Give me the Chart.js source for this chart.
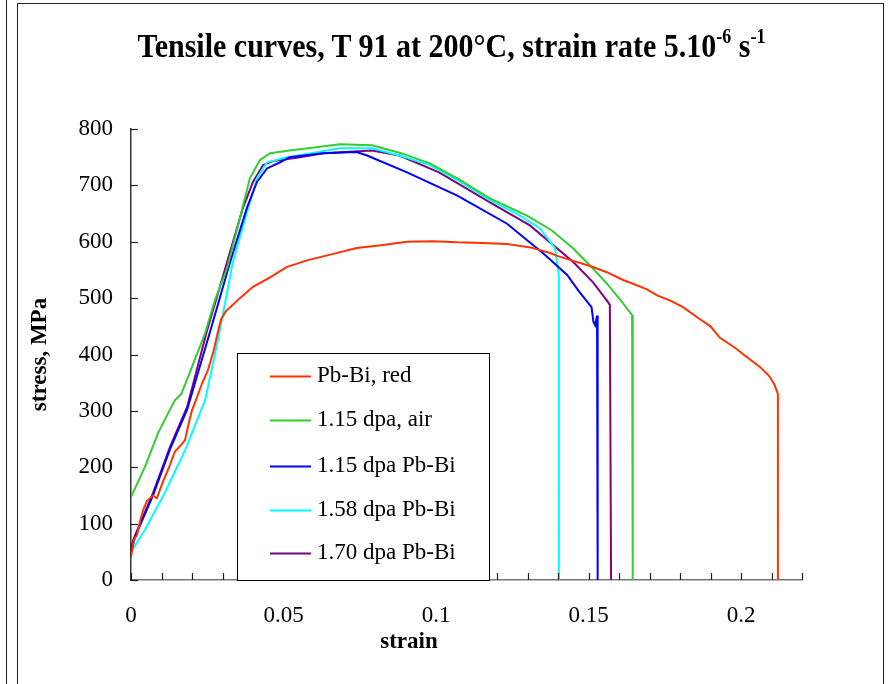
<!DOCTYPE html>
<html>
<head>
<meta charset="utf-8">
<script src="https://cdn.jsdelivr.net/npm/chart.js@4/dist/chart.umd.min.js"></script>
<style>
  html, body { margin: 0; padding: 0; background: #fff; }
  #wrap { position: relative; width: 891px; height: 684px; overflow: hidden; }
  #c { position: absolute; left: 0; top: 0; }
  #lineL { position: absolute; left: 6px; top: 0; width: 1px; height: 684px; background: #222; }
  #frame { position: absolute; left: 17px; top: 3px; width: 867px; height: 700px; border: 1px solid #222; box-sizing: border-box; }
  #title { position: absolute; left: 6px; width: 891px; top: 28px; text-align: center;
           font: bold 30px "Liberation Serif", "Times New Roman", serif; color: #000;
           transform: scaleY(1.15); transform-origin: 50% 50%; white-space: nowrap; line-height: 34px; }
  #title sup { font-size: 18px; position: relative; top: -12px; vertical-align: baseline; line-height: 0; }
</style>
</head>
<body>
<div id="wrap">
  <div id="lineL"></div>
  <div id="frame"></div>
  <canvas id="c" width="891" height="684"></canvas>
  <div id="title">Tensile curves, T 91 at 200°C, strain rate 5.10<sup>-6</sup> s<sup>-1</sup></div>
</div>
<script>
// ---- data ----
const seriesNames = ["Pb-Bi, red", "1.15 dpa, air", "1.15 dpa Pb-Bi", "1.58 dpa Pb-Bi", "1.70 dpa Pb-Bi"];
const seriesColors = ["#FF3300", "#33CC33", "#0000FF", "#00FFFF", "#800080"];

const redStrain = [0, 0.001, 0.002, 0.003, 0.004, 0.0052, 0.0072, 0.0085, 0.0105, 0.0125, 0.0144, 0.0165, 0.0177, 0.019, 0.02, 0.0215, 0.0233, 0.0252, 0.027, 0.0285, 0.0295, 0.031, 0.0325, 0.0357, 0.04, 0.0456, 0.051, 0.0577, 0.066, 0.074, 0.082, 0.0905, 0.099, 0.107, 0.115, 0.1233, 0.131, 0.1374, 0.1397, 0.145, 0.1505, 0.156, 0.161, 0.169, 0.1725, 0.177, 0.181, 0.1856, 0.19, 0.193, 0.198, 0.202, 0.2062, 0.2085, 0.2095, 0.211, 0.2121, 0.2121];
const redStress = [40, 72, 80, 105, 124, 140, 150, 145, 175, 200, 228, 240, 248, 280, 301, 322, 349, 372, 405, 440, 462, 476, 484, 500, 520, 537, 555, 567, 578, 589, 594, 600, 601, 599, 598, 596, 590, 580, 575, 566, 557, 546, 533, 516, 505, 495, 484, 466, 450, 430, 412, 395, 378, 366, 360, 346, 330, 0];

const greenStrain = [0, 0.0046, 0.0089, 0.0144, 0.0165, 0.0187, 0.0243, 0.0275, 0.0315, 0.0357, 0.039, 0.0423, 0.0456, 0.052, 0.06, 0.0685, 0.079, 0.088, 0.098, 0.1077, 0.1177, 0.13, 0.138, 0.145, 0.1505, 0.156, 0.1603, 0.1643, 0.1645];
const greenStress = [147, 201, 261, 319, 330, 360, 438, 496, 553, 642, 713, 745, 757, 762, 767, 773, 771, 758, 739, 710, 677, 646, 620, 588, 558, 526, 498, 470, 0];

const blueStrain = [0, 0.0013, 0.0072, 0.0128, 0.0184, 0.0259, 0.0325, 0.038, 0.0413, 0.0446, 0.0489, 0.052, 0.063, 0.074, 0.0774, 0.0905, 0.107, 0.1233, 0.1355, 0.143, 0.147, 0.151, 0.1516, 0.1522, 0.1528, 0.153];
const blueStress = [50, 76, 150, 232, 302, 440, 564, 660, 706, 730, 741, 750, 757, 759, 753, 723, 682, 632, 578, 541, 511, 484, 458, 452, 469, 0];

const cyanStrain = [0, 0.0046, 0.011, 0.0177, 0.0243, 0.0285, 0.0334, 0.038, 0.0413, 0.0446, 0.0511, 0.06, 0.0685, 0.079, 0.088, 0.098, 0.1077, 0.1177, 0.127, 0.134, 0.139, 0.1397, 0.1403, 0.1403];
const cyanStress = [50, 89, 154, 230, 319, 426, 564, 652, 713, 741, 750, 758, 766, 766, 753, 736, 707, 674, 648, 624, 589, 564, 540, 0];

const purpleStrain = [0, 0.0007, 0.0072, 0.0128, 0.0184, 0.0248, 0.0279, 0.0315, 0.0367, 0.04, 0.0433, 0.0466, 0.0554, 0.063, 0.079, 0.088, 0.101, 0.1177, 0.1308, 0.145, 0.1515, 0.156, 0.157, 0.1574];
const purpleStress = [55, 71, 154, 236, 307, 440, 497, 564, 660, 706, 736, 743, 750, 757, 762, 753, 723, 670, 629, 564, 528, 496, 488, 0];

const xTickLabels = ["0", "0.05", "0.1", "0.15", "0.2"];
const yTickLabels = ["0", "100", "200", "300", "400", "500", "600", "700", "800"];
const xAxisTitle = "strain";
const yAxisTitle = "stress, MPa";

const strains = [redStrain, greenStrain, blueStrain, cyanStrain, purpleStrain];
const stresses = [redStress, greenStress, blueStress, cyanStress, purpleStress];

// ---- build datasets ----
const datasets = seriesNames.map((name, i) => ({
  label: name,
  data: strains[i].map((x, k) => ({ x: x, y: stresses[i][k] })),
  borderColor: seriesColors[i],
  backgroundColor: seriesColors[i],
  borderWidth: 2,
  pointRadius: 0,
  showLine: true,
  tension: 0,
  fill: false
}));

const FONT = "'Liberation Serif', 'Times New Roman', serif";

const tickPlugin = {
  id: 'innerTicks',
  afterDatasetsDraw(chart) {
    const ctx = chart.ctx;
    const xs = chart.scales.x, ys = chart.scales.y;
    const area = chart.chartArea;
    ctx.save();
    ctx.strokeStyle = '#222';
    ctx.lineWidth = 1.2;
    for (let k = 0; k <= 22; k++) {
      const px = Math.round(xs.getPixelForValue(k / 100)) + 0.5;
      ctx.beginPath();
      ctx.moveTo(px, area.bottom);
      ctx.lineTo(px, area.bottom - 7);
      ctx.stroke();
    }
    for (let k = 0; k <= 8; k++) {
      const py = Math.round(ys.getPixelForValue(k * 100)) + 0.5;
      ctx.beginPath();
      ctx.moveTo(area.left, py);
      ctx.lineTo(area.left + 7, py);
      ctx.stroke();
    }
    // x axis title
    ctx.fillStyle = '#000';
    ctx.font = 'bold 23px ' + FONT;
    ctx.textAlign = 'center';
    ctx.textBaseline = 'middle';
    ctx.fillText(xAxisTitle, 409, 642);
    ctx.restore();
  }
};

const legendPlugin = {
  id: 'boxLegend',
  afterDatasetsDraw(chart) {
    const ctx = chart.ctx;
    const area = chart.chartArea;
    const left = 237, top = 353, right = 489, bottom = area.bottom;
    ctx.save();
    ctx.fillStyle = '#fff';
    ctx.fillRect(left, top, right - left, bottom - top);
    ctx.strokeStyle = '#000';
    ctx.lineWidth = 1;
    ctx.strokeRect(left + 0.5, top + 0.5, right - left, bottom - top);
    const rows = [376, 420, 466, 510, 553];
    ctx.font = '23px ' + FONT;
    ctx.textBaseline = 'middle';
    ctx.textAlign = 'left';
    chart.data.datasets.forEach((ds, i) => {
      const y = rows[i];
      ctx.strokeStyle = ds.borderColor;
      ctx.lineWidth = 2;
      ctx.beginPath();
      ctx.moveTo(270, y + 0.5);
      ctx.lineTo(311, y + 0.5);
      ctx.stroke();
      ctx.fillStyle = '#000';
      ctx.fillText(ds.label, 317, y);
    });
    ctx.restore();
  }
};

new Chart(document.getElementById('c'), {
  type: 'scatter',
  data: { datasets: datasets },
  options: {
    responsive: false,
    animation: false,
    devicePixelRatio: 1,
    layout: { padding: { top: 129, right: 89, left: 0, bottom: 0 } },
    plugins: {
      legend: { display: false },
      title: { display: false },
      tooltip: { enabled: false }
    },
    scales: {
      x: {
        type: 'linear',
        min: 0, max: 0.22,
        grid: { display: false, drawTicks: false, tickLength: 0 },
        border: { display: true, color: '#777', width: 1.5 },
        ticks: {
          stepSize: 0.01,
          autoSkip: false,
          maxRotation: 0,
          padding: 22,
          color: '#000',
          font: { family: FONT, size: 23 },
          callback: function (v) {
            const k = Math.round(v * 100);
            if (k % 5 === 0 && k <= 20) return xTickLabels[k / 5];
            return '';
          }
        },
        title: { display: false },
        afterFit: function (s) { s.height = 104; }
      },
      y: {
        type: 'linear',
        min: 0, max: 800,
        grid: { display: false, drawTicks: false, tickLength: 0 },
        border: { display: true, color: '#333', width: 1.5 },
        ticks: {
          stepSize: 100,
          padding: 18,
          color: '#000',
          font: { family: FONT, size: 23 },
          callback: function (v) { return yTickLabels[Math.round(v / 100)]; }
        },
        title: { display: true, text: yAxisTitle, color: '#000', font: { family: FONT, size: 23, weight: 'bold' }, padding: { top: 26, bottom: 0 } },
        afterFit: function (s) { s.width = 131; }
      }
    }
  },
  plugins: [tickPlugin, legendPlugin]
});
</script>
</body>
</html>
